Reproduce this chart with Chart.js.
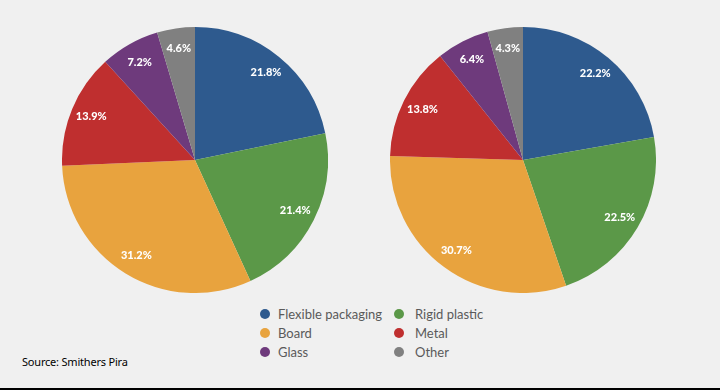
<!DOCTYPE html>
<html>
<head>
<meta charset="utf-8">
<script src="https://cdn.jsdelivr.net/npm/chart.js@4.4.0/dist/chart.umd.min.js"></script>
<style>
  body { margin: 0; background: #f0f0f0; }
  #page { position: relative; width: 720px; height: 390px; background: #f0f0f0; overflow: hidden; font-family: Lato, sans-serif; }
  canvas { position: absolute; }
  #left { left: 62px; top: 27px; }
  #right { left: 390px; top: 27px; }
  .item { position: absolute; font-size: 13px; color: #5a5a5a; line-height: 16px; white-space: nowrap; }
  .dot { position: absolute; width: 10px; height: 10px; border-radius: 50%; }
  #source { position: absolute; left: 22px; top: 354px; font-family: "Noto Sans", sans-serif; font-size: 11px; color: #000; letter-spacing: -0.2px; }
  #rule { position: absolute; left: 0; right: 0; bottom: 0; height: 2px; background: #000; }
</style>
</head>
<body>
<div id="page">
  <canvas id="left" width="266" height="266"></canvas>
  <canvas id="right" width="266" height="266"></canvas>
  <div id="legend"></div>
  <div id="source">Source: Smithers Pira</div>
  <div id="rule"></div>
</div>
<script>
var materials = ["Flexible packaging", "Rigid plastic", "Board", "Metal", "Glass", "Other"];
var colours = ["#2e5a8e", "#5b9848", "#e8a33e", "#bf2f2f", "#6e3a7c", "#808080"];
var leftShares = [21.8, 21.4, 31.2, 13.9, 7.2, 4.6];
var rightShares = [22.2, 22.5, 30.7, 13.8, 6.4, 4.3];

// white percentage text inside each slice
var sliceLabels = {
  id: "sliceLabels",
  afterDatasetsDraw: function (chart) {
    var ctx = chart.ctx;
    var meta = chart.getDatasetMeta(0);
    var values = chart.data.datasets[0].data;
    ctx.save();
    ctx.fillStyle = "#fff";
    ctx.font = "900 11px Lato";
    ctx.textAlign = "center";
    ctx.textBaseline = "middle";
    meta.data.forEach(function (arc, i) {
      var p = arc.getProps(["x", "y", "startAngle", "endAngle", "outerRadius"], true);
      var mid = (p.startAngle + p.endAngle) / 2;
      var r = p.outerRadius * 0.845;
      ctx.fillText(values[i].toFixed(1) + "%", p.x + Math.cos(mid) * r, p.y + Math.sin(mid) * r);
    });
    ctx.restore();
  }
};

function makePie(id, shares) {
  var ctx = document.getElementById(id).getContext("2d");
  return new Chart(ctx, {
    type: "pie",
    data: {
      labels: materials,
      datasets: [
        {
          data: shares,
          backgroundColor: colours,
          borderWidth: 0,
        },
      ],
    },
    options: {
      responsive: false,
      animation: false,
      layout: { padding: 0 },
      plugins: {
        legend: { display: false },
        tooltip: { enabled: false },
      },
    },
    plugins: [sliceLabels],
  });
}

makePie("left", leftShares);
makePie("right", rightShares);

// legend: two columns, row by row
var legend = document.getElementById("legend");
materials.forEach(function (name, i) {
  var col = i % 2;
  var row = Math.floor(i / 2);
  var cy = 314 + row * 19;
  var dotX = col == 0 ? 265 : 399;
  var textX = col == 0 ? 278 : 415;
  var dot = document.createElement("div");
  dot.className = "dot";
  dot.style.left = (dotX - 5) + "px";
  dot.style.top = (cy - 5) + "px";
  dot.style.background = colours[i];
  legend.appendChild(dot);
  var txt = document.createElement("div");
  txt.className = "item";
  txt.style.left = textX + "px";
  txt.style.top = (cy - 8) + "px";
  txt.textContent = name;
  legend.appendChild(txt);
});
</script>
</body>
</html>
